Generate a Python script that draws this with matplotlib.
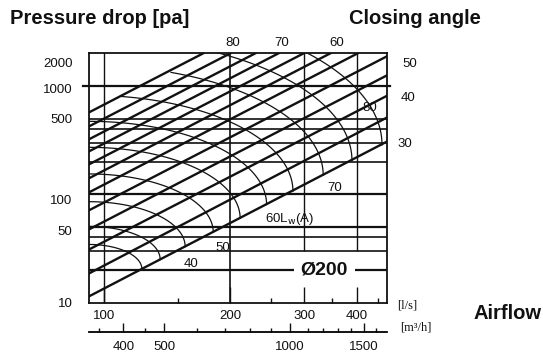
import numpy as np
import matplotlib
matplotlib.use('Agg')
import matplotlib.pyplot as plt
from matplotlib.ticker import NullFormatter
from matplotlib.transforms import blended_transform_factory, ScaledTranslation

plt.rcParams['font.family'] = ['Liberation Sans', 'DejaVu Sans']

# closing angle lines: pressure drop [Pa] read at 100 l/s and 150 l/s
ANGLES = [30, 35, 40, 45, 50, 55, 60, 65, 70, 75, 80, 85]
P_AT_100 = [13.5, 22, 36.5, 56, 84, 123, 166, 223, 294, 380, 500, 673]
P_AT_150 = [30.5, 50, 82, 126, 189, 277, 374, 502, 662, 855, 1125, 1515]

# sound power curves Lw(A): where they meet the 30 deg line, and their top at the left edge
LW_LEVELS = [35, 40, 45, 50, 55, 60, 65, 70, 75, 80]
LW_END_FLOW = [123, 136, 156, 182, 211, 244, 282, 333, 390, 460]
LW_END_PA = [20.4, 25, 32.9, 44.7, 60.1, 80.4, 107, 150, 205, 286]
LW_TOP_PA = [34.4, 50.5, 85.4, 154, 271, 471, 820, 1545, 2830, 5320]

# grid
H_LINES = [30, 40, 50, 100, 200, 300, 400, 500, 1000]
FLOW_TICKS = [100, 200, 300, 400]
FLOW_MINOR = [150, 250, 350, 450]
M3H_TICKS = [400, 500, 1000, 1500]
M3H_MINOR = [350, 450, 600, 700, 800, 900, 1100, 1200, 1300, 1400, 1600]
P_TICKS = [10, 50, 100, 500, 1000, 2000]

INK = '#111111'
NUM = 9.5

fig = plt.figure(figsize=(5.43, 3.53), dpi=100)
ax = fig.add_axes([89 / 543, 1 - 302.6 / 353, 297.7 / 543, 249.3 / 353])
ax.set_xscale('log')
ax.set_yscale('log')
ax.set_xlim(92, 472)
ax.set_ylim(10, 2000)

for v in H_LINES:
    w = 1.6 if v in (50, 100, 1000) else 1.2
    if v == 1000:
        ax.axhline(v, xmin=-0.02, xmax=1.012, color=INK, lw=w, clip_on=False)
    else:
        ax.axhline(v, color=INK, lw=w)
ax.axhline(20, color=INK, lw=1.6)

ax.axvline(100, color=INK, lw=1.0)
ax.axvline(200, color=INK, lw=1.2)
ax.vlines([300, 400], 30, 2000, color=INK, lw=1.0)

# closing angle lines, straight in log-log
for p1, p2 in zip(P_AT_100, P_AT_150):
    ax.axline((100, p1), (150, p2), color=INK, lw=1.7)

# top closing angle line bounds the Lw curves
s_top = np.log10(P_AT_150[-1] / P_AT_100[-1]) / np.log10(1.5)

# Lw curves as quarter ellipses (log space) from the left edge to the 30 deg line
q0 = ax.get_xlim()[0]
th = np.linspace(0, np.pi / 2, 80)
for qe, pe, pt in zip(LW_END_FLOW, LW_END_PA, LW_TOP_PA):
    lq = np.log10(q0) + (np.log10(qe) - np.log10(q0)) * np.sin(th)
    lp = np.log10(pe) + (np.log10(pt) - np.log10(pe)) * np.cos(th)
    limit = np.log10(P_AT_100[-1]) + s_top * (lq - 2)
    lp = np.where(lp <= limit, lp, np.nan)
    ax.plot(10 ** lq, 10 ** lp, color=INK, lw=0.9)

for s in ax.spines.values():
    s.set_linewidth(1.3)
    s.set_color(INK)

ax.set_xticks(FLOW_TICKS, [str(v) for v in FLOW_TICKS])
ax.set_xticks(FLOW_MINOR, minor=True)
ax.xaxis.set_minor_formatter(NullFormatter())
ax.tick_params(axis='x', which='major', direction='in', length=11.5, width=1,
               pad=5, labelsize=NUM, colors=INK)
ax.tick_params(axis='x', which='minor', direction='in', length=3.6, width=1, colors=INK)

ax.set_yticks(P_TICKS, [str(v) for v in P_TICKS])
ax.set_yticks([], minor=True)
ax.tick_params(axis='y', length=0, pad=12, labelsize=NUM, colors=INK)
# scanned labels sit a little below their lines
for lab, dy in zip(ax.get_yticklabels(), [0, 4, 5, 0, 3, 9]):
    lab.set_transform(lab.get_transform() + ScaledTranslation(0, -dy / 100, fig.dpi_scale_trans))

sec = ax.secondary_xaxis(-0.118, functions=(lambda q: q * 3.6, lambda m: m / 3.6))
sec.set_xticks(M3H_TICKS, [str(v) for v in M3H_TICKS])
sec.set_xticks(M3H_MINOR, minor=True)
sec.xaxis.set_minor_formatter(NullFormatter())
sec.tick_params(which='major', direction='in', length=6.5, width=1, pad=6.5,
                labelsize=NUM, colors=INK)
sec.tick_params(which='minor', direction='in', length=3, width=1, colors=INK)
sec.spines['bottom'].set_linewidth(1.3)

# closing angle labels
top = blended_transform_factory(ax.transData, ax.transAxes)
for q, lab in zip([203, 265, 359], ['80', '70', '60']):
    ax.text(q, 1.0425, lab, transform=top, ha='center', va='center', fontsize=NUM, color=INK)
right = blended_transform_factory(ax.transAxes, ax.transData)
for xa, p, lab in zip([1.078, 1.072, 1.061], [1596, 774, 291], ['50', '40', '30']):
    ax.text(xa, p, lab, transform=right, ha='center', va='center', fontsize=NUM, color=INK)

# Lw labels
for q, p, lab in zip([161, 192, 277, 355, 430], [22.6, 32.1, 58.7, 115, 631],
                     ['40', '50', '60L$_{\\mathrm{w}}$(A)', '70', '80']):
    ax.text(q, p, lab, ha='center', va='center', fontsize=NUM, color=INK)

ax.text(335, 20, 'Ø200', ha='center', va='center', fontsize=14, fontweight='bold',
        color=INK, zorder=5, bbox=dict(facecolor='white', edgecolor='none', pad=5))

ax.text(1.068, -0.013, '[l/s]', transform=ax.transAxes, ha='center', va='center',
        family='Liberation Serif', fontsize=9, color=INK)
ax.text(1.098, -0.10, '[m³/h]', transform=ax.transAxes, ha='center', va='center',
        family='Liberation Serif', fontsize=9, color=INK)

fig.text(0.0184, 0.947, 'Pressure drop [pa]', ha='left', va='center',
         fontsize=14.5, fontweight='bold', color=INK)
fig.text(0.764, 0.947, 'Closing angle', ha='center', va='center',
         fontsize=14.5, fontweight='bold', color=INK)
fig.text(0.935, 0.113, 'Airflow', ha='center', va='center',
         fontsize=14.5, fontweight='bold', color=INK)

fig.savefig('out.png', dpi=100, facecolor='white')
